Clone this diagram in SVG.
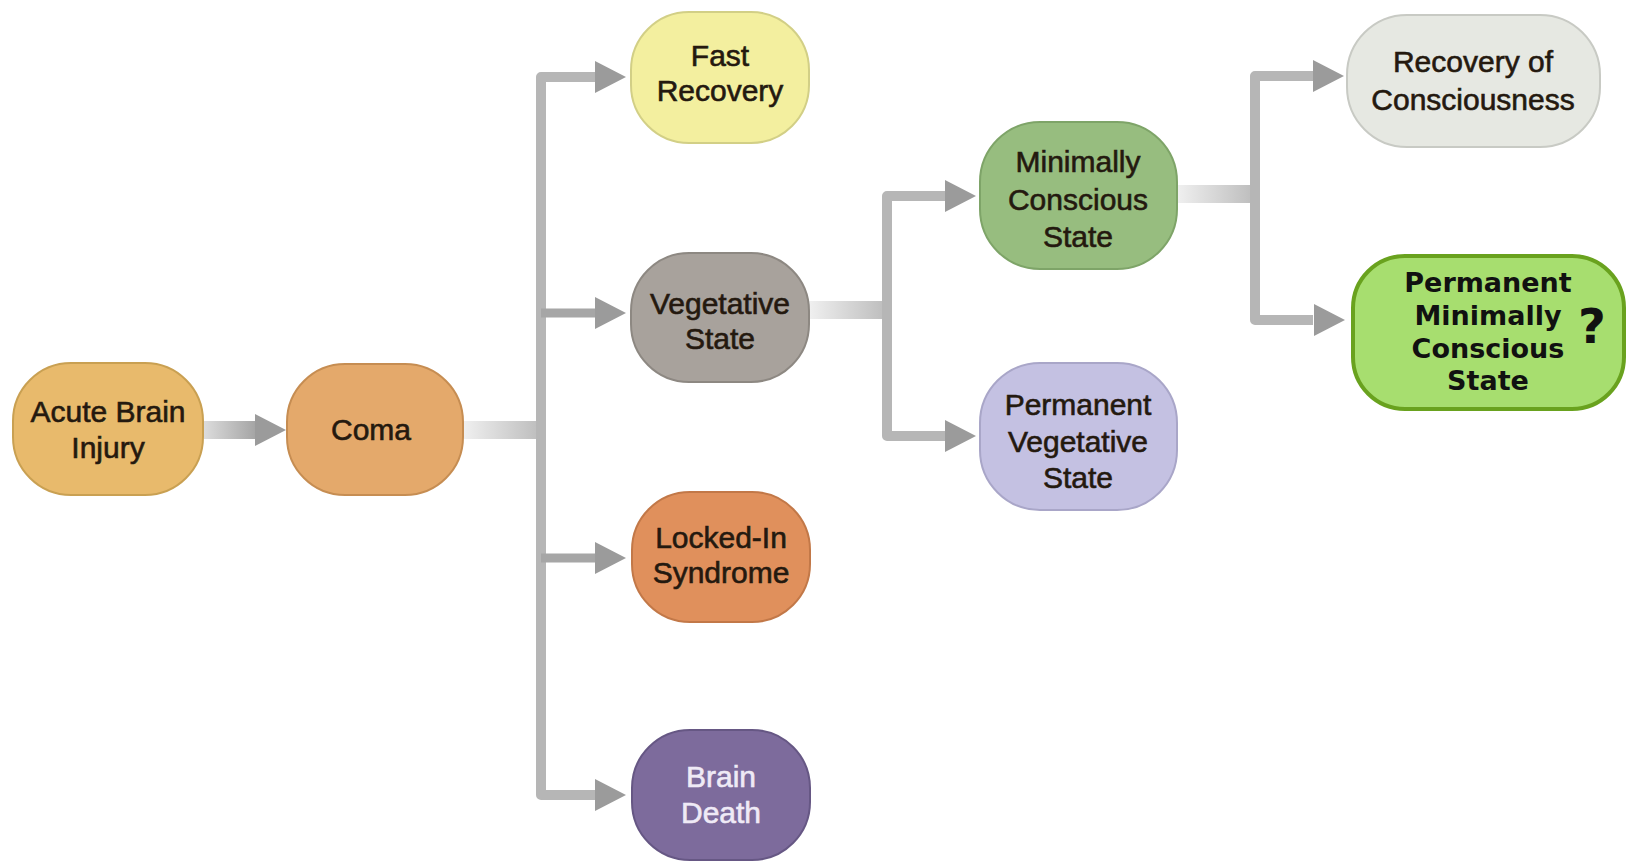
<svg xmlns="http://www.w3.org/2000/svg" xmlns:xlink="http://www.w3.org/1999/xlink" width="1631" height="865" viewBox="0 0 1631 865">
<style>
.t{font-family:"Liberation Sans",Arial,sans-serif;font-size:30px;fill:#24190f;stroke:#24190f;stroke-width:0.6;text-anchor:middle}
.w{fill:#efeaf6;stroke:#efeaf6}
.b{font-family:"DejaVu Sans",Verdana,sans-serif;font-weight:bold;font-size:27px;fill:#111;text-anchor:middle}
.node{stroke-width:2}
.trunk{fill:none;stroke:#b6b6b6;stroke-width:10;stroke-linejoin:round}
.br{stroke:#a6a6a6;stroke-width:9}
.hd{fill:#9b9b9b}
</style>
<defs>
<linearGradient id="gShaft" x1="0" y1="0" x2="1" y2="0">
<stop offset="0" stop-color="#dcdcdc"/><stop offset="1" stop-color="#a2a2a2"/>
</linearGradient>
<linearGradient id="gFade" x1="0" y1="0" x2="1" y2="0">
<stop offset="0" stop-color="#f0f0f0"/><stop offset="1" stop-color="#bcbcbc"/>
</linearGradient>
<path id="head" d="M-31,-16 L0,0 L-31,16 Z"/>
</defs>
<rect width="1631" height="865" fill="#ffffff"/>

<g id="connectors">
<rect x="204" y="421" width="54" height="18" fill="url(#gShaft)"/>
<use xlink:href="#head" x="286" y="430" class="hd"/>
<rect x="463" y="421" width="78" height="18" fill="url(#gFade)"/>
<path class="trunk" d="M597,77 H541 V795 H597"/>
<line class="br" x1="541" y1="313" x2="597" y2="313"/>
<line class="br" x1="541" y1="558" x2="597" y2="558"/>
<use xlink:href="#head" x="626" y="77" class="hd"/>
<use xlink:href="#head" x="626" y="313" class="hd"/>
<use xlink:href="#head" x="626" y="558" class="hd"/>
<use xlink:href="#head" x="626" y="795" class="hd"/>
<rect x="809" y="301" width="78" height="18" fill="url(#gFade)"/>
<path class="trunk" d="M946,196 H887 V436 H946"/>
<use xlink:href="#head" x="976" y="196" class="hd"/>
<use xlink:href="#head" x="976" y="436" class="hd"/>
<rect x="1177" y="185" width="78" height="18" fill="url(#gFade)"/>
<path class="trunk" d="M1313,76 H1255 V320 H1313"/>
<use xlink:href="#head" x="1344" y="76" class="hd"/>
<use xlink:href="#head" x="1345" y="320" class="hd"/>
</g>

<g id="acute-brain-injury">
<rect class="node" x="13" y="363" width="190" height="132" rx="58" fill="#e8ba6c" stroke="#c9a052"/>
<text class="t" x="108" y="422">Acute Brain</text>
<text class="t" x="108" y="458">Injury</text>
</g>

<g id="coma">
<rect class="node" x="287" y="364" width="176" height="131" rx="58" fill="#e4a96b" stroke="#c68d52"/>
<text class="t" x="371" y="440">Coma</text>
</g>

<g id="fast-recovery">
<rect class="node" x="631" y="12" width="178" height="131" rx="58" fill="#f3ef9f" stroke="#d2cf86"/>
<text class="t" x="720" y="66">Fast</text>
<text class="t" x="720" y="101">Recovery</text>
</g>

<g id="vegetative-state">
<rect class="node" x="631" y="253" width="178" height="129" rx="58" fill="#a8a29c" stroke="#8d8882"/>
<text class="t" x="720" y="314">Vegetative</text>
<text class="t" x="720" y="349">State</text>
</g>

<g id="locked-in-syndrome">
<rect class="node" x="632" y="492" width="178" height="130" rx="58" fill="#e0905c" stroke="#c27848"/>
<text class="t" x="721" y="548">Locked-In</text>
<text class="t" x="721" y="583">Syndrome</text>
</g>

<g id="brain-death">
<rect class="node" x="632" y="730" width="178" height="130" rx="58" fill="#7d6b9c" stroke="#665784"/>
<text class="t w" x="721" y="787">Brain</text>
<text class="t w" x="721" y="823">Death</text>
</g>

<g id="minimally-conscious-state">
<rect class="node" x="980" y="122" width="197" height="147" rx="60" fill="#97bd7f" stroke="#7ea468"/>
<text class="t" x="1078" y="172">Minimally</text>
<text class="t" x="1078" y="210">Conscious</text>
<text class="t" x="1078" y="247">State</text>
</g>

<g id="permanent-vegetative-state">
<rect class="node" x="980" y="363" width="197" height="147" rx="60" fill="#c4c1e2" stroke="#a9a6c8"/>
<text class="t" x="1078" y="415">Permanent</text>
<text class="t" x="1078" y="452">Vegetative</text>
<text class="t" x="1078" y="488">State</text>
</g>

<g id="recovery-of-consciousness">
<rect class="node" x="1347" y="15" width="253" height="132" rx="60" fill="#e6e8e2" stroke="#c8cac4"/>
<text class="t" x="1473" y="72">Recovery of</text>
<text class="t" x="1473" y="110">Consciousness</text>
</g>

<g id="permanent-minimally-conscious-state">
<rect x="1353" y="256" width="271" height="153" rx="52" fill="#a7de6f" stroke="#69a21e" stroke-width="4"/>
<text class="b" x="1488" y="292">Permanent</text>
<text class="b" x="1488" y="325">Minimally</text>
<text class="b" x="1488" y="358">Conscious</text>
<text class="b" x="1488" y="390">State</text>
<text class="b" x="1592" y="343" style="font-size:48px">?</text>
</g>
</svg>
